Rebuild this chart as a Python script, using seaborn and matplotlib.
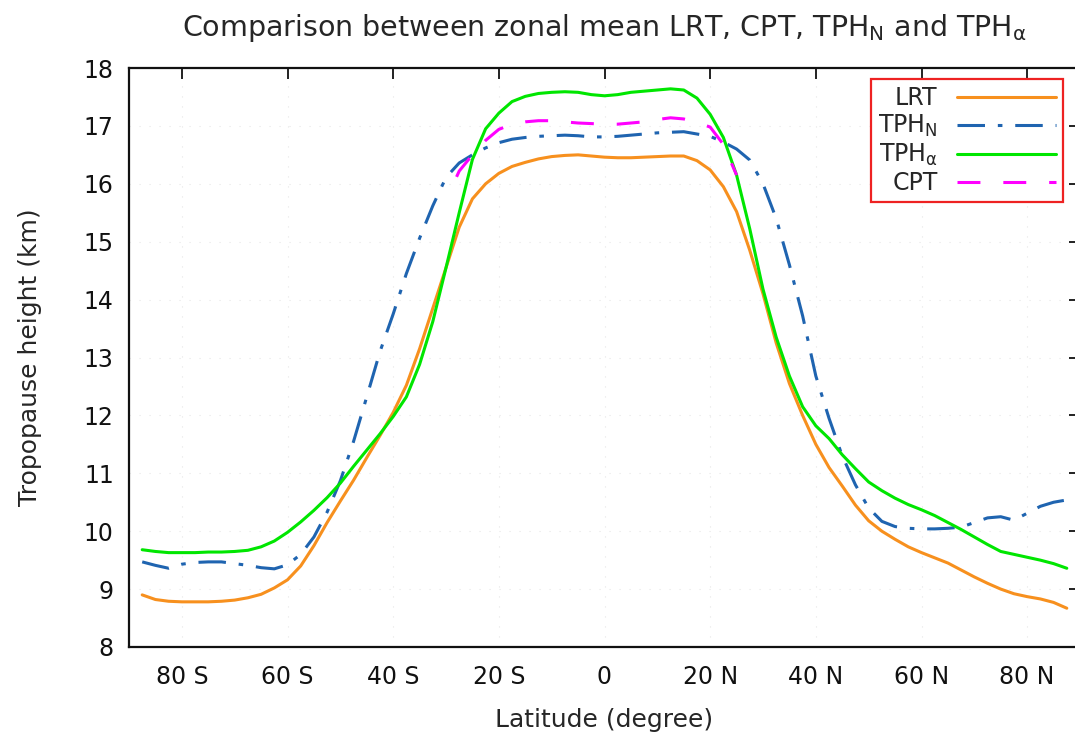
import numpy as np
import pandas as pd
import matplotlib
matplotlib.use("Agg")
import matplotlib.pyplot as plt
import seaborn as sns

# ---------------- data ----------------
lat = [-87.5, -85, -82.5, -80, -77.5, -75, -72.5, -70, -67.5, -65, -62.5, -60,
       -57.5, -55, -52.5, -50, -47.5, -45, -42.5, -40, -37.5, -35, -32.5, -30,
       -27.5, -25, -22.5, -20, -17.5, -15, -12.5, -10, -7.5, -5, -2.5, 0,
       2.5, 5, 7.5, 10, 12.5, 15, 17.5, 20, 22.5, 25, 27.5, 30, 32.5, 35,
       37.5, 40, 42.5, 45, 47.5, 50, 52.5, 55, 57.5, 60, 62.5, 65, 67.5, 70,
       72.5, 75, 77.5, 80, 82.5, 85, 87.5]

lrt = [8.90, 8.82, 8.79, 8.78, 8.78, 8.78, 8.79, 8.81, 8.85, 8.91, 9.02, 9.16,
       9.40, 9.75, 10.15, 10.52, 10.88, 11.27, 11.65, 12.05, 12.52, 13.15, 13.85, 14.55,
       15.25, 15.74, 16.00, 16.18, 16.30, 16.37, 16.43, 16.47, 16.49, 16.50, 16.48, 16.46,
       16.45, 16.45, 16.46, 16.47, 16.48, 16.48, 16.40, 16.24, 15.95, 15.52, 14.85, 14.10,
       13.25, 12.55, 12.00, 11.50, 11.10, 10.78, 10.45, 10.18, 10.00, 9.86, 9.73, 9.63,
       9.54, 9.45, 9.33, 9.21, 9.10, 9.00, 8.92, 8.87, 8.83, 8.77, 8.67]

tph_n = [9.47, 9.41, 9.36, 9.43, 9.46, 9.47, 9.47, 9.44, 9.41, 9.37, 9.35, 9.42,
         9.60, 9.90, 10.33, 10.87, 11.55, 12.32, 13.10, 13.75, 14.45, 15.06, 15.62, 16.11,
         16.36, 16.50, 16.62, 16.71, 16.77, 16.80, 16.82, 16.83, 16.84, 16.83, 16.81, 16.81,
         16.82, 16.84, 16.86, 16.88, 16.89, 16.90, 16.86, 16.82, 16.72, 16.60, 16.41, 16.00,
         15.40, 14.60, 13.72, 12.68, 11.95, 11.30, 10.80, 10.40, 10.17, 10.08, 10.05, 10.04,
         10.04, 10.05, 10.07, 10.15, 10.23, 10.25, 10.19, 10.31, 10.43, 10.50, 10.54]

tph_alpha = [9.68, 9.65, 9.63, 9.63, 9.63, 9.64, 9.64, 9.65, 9.67, 9.73, 9.83, 9.98,
             10.16, 10.36, 10.58, 10.83, 11.12, 11.40, 11.68, 11.98, 12.32, 12.88, 13.62, 14.55,
             15.50, 16.42, 16.95, 17.22, 17.42, 17.51, 17.56, 17.58, 17.59, 17.58, 17.54, 17.52,
             17.54, 17.58, 17.60, 17.62, 17.64, 17.62, 17.48, 17.20, 16.80, 16.15, 15.22, 14.18,
             13.35, 12.68, 12.15, 11.82, 11.60, 11.32, 11.08, 10.85, 10.70, 10.57, 10.46, 10.37,
             10.27, 10.15, 10.03, 9.90, 9.77, 9.65, 9.60, 9.55, 9.50, 9.44, 9.36]

cpt_lat = [-28, -27.5, -25, -22.5, -20, -17.5, -15, -12.5, -10, -7.5, -5, -2.5, 0,
           2.5, 5, 7.5, 10, 12.5, 15, 17.5, 20, 22.5, 25]
cpt = [16.12, 16.22, 16.50, 16.75, 16.94, 17.03, 17.07, 17.09, 17.09, 17.07, 17.05,
       17.04, 17.03, 17.03, 17.05, 17.07, 17.11, 17.14, 17.12, 17.06, 16.98, 16.68, 16.15]

xticks = [-80, -60, -40, -20, 0, 20, 40, 60, 80]
xticklabels = ["80 S", "60 S", "40 S", "20 S", "0", "20 N", "40 N", "60 N", "80 N"]
yticks = [8, 9, 10, 11, 12, 13, 14, 15, 16, 17, 18]

series_labels = ["LRT", "TPH$_\\mathrm{N}$", "TPH$_\\mathrm{\\alpha}$", "CPT"]

# ---------------- style ----------------
sns.set_style("white")
plt.rcParams["font.family"] = ["DejaVu Sans"]
plt.rcParams["mathtext.fontset"] = "dejavusans"

fig = plt.figure(figsize=(10.75, 7.35), dpi=100)
ax = fig.add_axes([129 / 1075, 1 - 647 / 735, (1080 - 129) / 1075, (647 - 68) / 735])

df_main = pd.DataFrame({"lat": lat, "lrt": lrt, "tph_n": tph_n, "tph_alpha": tph_alpha})
df_cpt = pd.DataFrame({"lat": cpt_lat, "cpt": cpt})

LW = 2.2
sns.lineplot(data=df_main, x="lat", y="lrt", ax=ax, color="#f7901e", lw=LW,
             label=series_labels[0])
sns.lineplot(data=df_main, x="lat", y="tph_n", ax=ax, color="#1f64b0", lw=LW,
             linestyle=(0, (9.0, 4.2, 1.5, 4.2)), label=series_labels[1])
sns.lineplot(data=df_main, x="lat", y="tph_alpha", ax=ax, color="#00e600", lw=LW,
             label=series_labels[2])
sns.lineplot(data=df_cpt, x="lat", y="cpt", ax=ax, color="#ff00ff", lw=LW,
             linestyle=(0, (7.5, 7.5)), label=series_labels[3])

ax.set_xlim(-90, 90)
ax.set_ylim(8, 18)
ax.set_xticks(xticks)
ax.set_xticklabels(xticklabels)
ax.set_yticks(yticks)

ax.grid(True, color="#e6e6e6", linestyle=(0, (1, 8)), linewidth=0.8)
ax.tick_params(axis="both", which="both", direction="in", length=8, width=1.3,
               top=True, right=True, labelsize=17, colors="#111111")
ax.tick_params(axis="x", pad=13)
ax.tick_params(axis="y", pad=11)
for s in ax.spines.values():
    s.set_linewidth(1.6)
    s.set_color("#111111")

ax.set_xlabel("Latitude (degree)", fontsize=18, labelpad=14)
ax.set_ylabel("Tropopause height (km)", fontsize=18, labelpad=30)
ax.set_title("Comparison between zonal mean LRT, CPT, TPH$_\\mathrm{N}$ and TPH$_\\mathrm{\\alpha}$",
             fontsize=20.5, pad=23)

leg = ax.legend(loc="upper right", bbox_to_anchor=(0.982, 0.981), borderaxespad=0,
                markerfirst=False, fontsize=17, handlelength=4.2, handletextpad=0.8,
                labelspacing=0.12, fancybox=False, frameon=True, borderpad=0.3)
leg.get_frame().set_edgecolor("#ee2222")
leg.get_frame().set_linewidth(1.6)
leg.get_frame().set_alpha(1)

fig.savefig("out.png", dpi=100)
